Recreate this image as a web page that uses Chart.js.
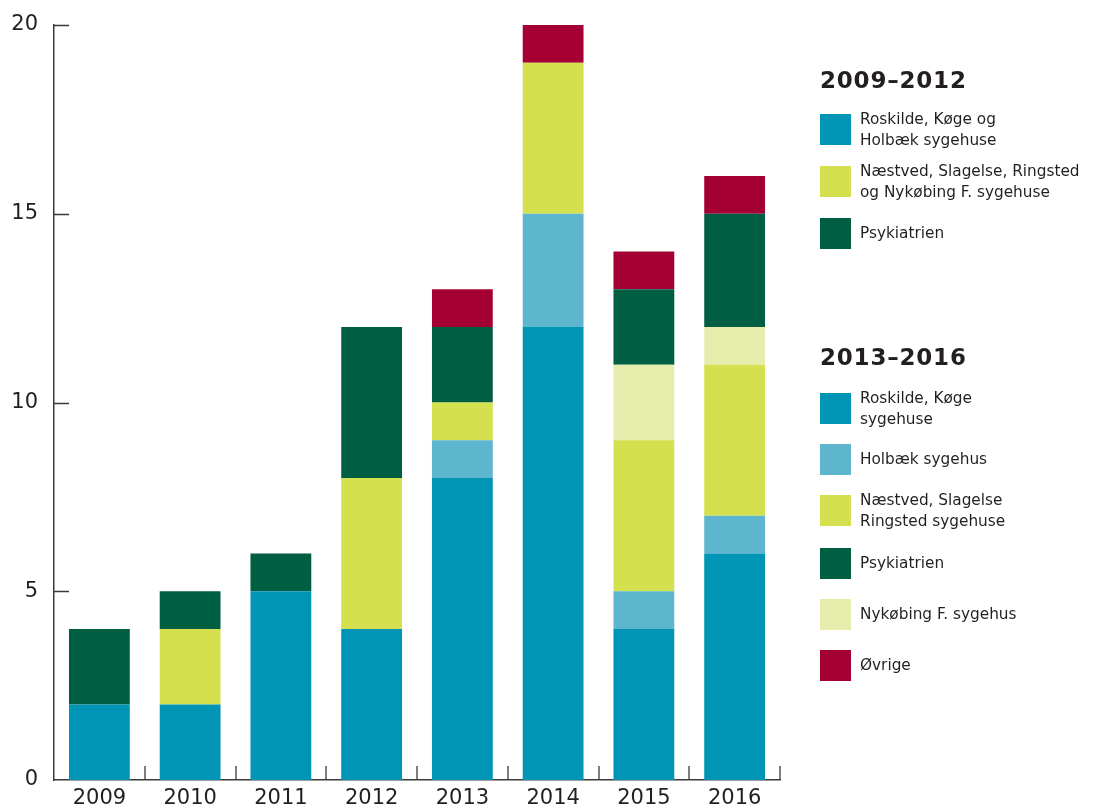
<!DOCTYPE html>
<html>
<head>
<meta charset="utf-8">
<script src="https://cdn.jsdelivr.net/npm/chart.js@4/dist/chart.umd.min.js"></script>
<style>
    html, body { margin: 0; padding: 0; background: #fff; }
    #wrap { position: relative; width: 1096px; height: 809px; overflow: hidden; }
    #chart { position: absolute; left: 0; top: 0; }
    .legend { position: absolute; left: 820px; font-family: "DejaVu Sans", sans-serif; color: #231f20; }
    .legend h3 { margin: 0; font-size: 23px; font-weight: bold; letter-spacing: 0.8px; line-height: 28px; }
    .legend.item { left: 820px; width: 280px; }
    .sw { position: absolute; left: 0; top: 0; width: 31px; height: 31px; }
    .txt { position: absolute; left: 40px; font-size: 15.3px; line-height: 21px; white-space: nowrap; }
</style>
</head>
<body>
<div id="wrap">
    <canvas id="chart" width="1096" height="809"></canvas>
    <div id="legend"></div>
</div>
<script>
const years = ['2009', '2010', '2011', '2012', '2013', '2014', '2015', '2016'];
const yTicks = [0, 5, 10, 15, 20];

// stacked from the bottom up
const roskildeKoege = [2, 2, 5, 4, 8, 12, 4, 6];
const holbaek = [0, 0, 0, 0, 1, 3, 1, 1];
const naestved = [0, 2, 0, 4, 1, 4, 4, 4];
const nykoebing = [0, 0, 0, 0, 0, 0, 2, 1];
const psykiatrien = [2, 1, 1, 4, 2, 0, 2, 3];
const oevrige = [0, 0, 0, 0, 1, 1, 1, 1];

const colors = {
    teal: '#0094b5',
    lightBlue: '#5db6ce',
    yellow: '#d4e04d',
    pale: '#e6ecab',
    green: '#005e42',
    red: '#a50034'
};

const legendGroups = [
    { title: '2009–2012', top: 66, items: [
        { color: colors.teal, text: 'Roskilde, Køge og<br>Holbæk sygehuse', y: 114 },
        { color: colors.yellow, text: 'Næstved, Slagelse, Ringsted<br>og Nykøbing F. sygehuse', y: 166 },
        { color: colors.green, text: 'Psykiatrien', y: 218 }
    ]},
    { title: '2013–2016', top: 343, items: [
        { color: colors.teal, text: 'Roskilde, Køge<br>sygehuse', y: 393 },
        { color: colors.lightBlue, text: 'Holbæk sygehus', y: 444 },
        { color: colors.yellow, text: 'Næstved, Slagelse<br>Ringsted sygehuse', y: 495 },
        { color: colors.green, text: 'Psykiatrien', y: 548 },
        { color: colors.pale, text: 'Nykøbing F. sygehus', y: 599 },
        { color: colors.red, text: 'Øvrige', y: 650 }
    ]}
];

// html legend
const legendEl = document.getElementById('legend');
legendGroups.forEach(g => {
    const box = document.createElement('div');
    box.className = 'legend';
    box.style.top = g.top + 'px';
    box.innerHTML = '<h3>' + g.title + '</h3>';
    legendEl.appendChild(box);
    g.items.forEach(it => {
        const el = document.createElement('div');
        el.className = 'legend item';
        el.style.top = it.y + 'px';
        const lines = it.text.split('<br>').length;
        const txtTop = lines === 1 ? 5 : -5;
        el.innerHTML = '<div class="sw" style="background:' + it.color + '"></div>' +
            '<div class="txt" style="top:' + txtTop + 'px">' + it.text + '</div>';
        legendEl.appendChild(el);
    });
});

// inward tick marks
const innerTicks = {
    id: 'innerTicks',
    afterDraw(chart) {
        const ctx = chart.ctx;
        const x = chart.scales.x, y = chart.scales.y;
        ctx.save();
        ctx.strokeStyle = '#3a3a3a';
        ctx.lineWidth = 1.3;
        ctx.beginPath();
        yTicks.slice(1).forEach(v => {
            const py = Math.round(y.getPixelForValue(v)) + 0.5;
            ctx.moveTo(x.left, py);
            ctx.lineTo(x.left + 15, py);
        });
        for (let i = 0; i < years.length; i++) {
            const bx = i < years.length - 1
                ? Math.round((x.getPixelForValue(i) + x.getPixelForValue(i + 1)) / 2)
                : x.right;
            ctx.moveTo(bx, y.bottom);
            ctx.lineTo(bx, y.bottom - 14);
        }
        ctx.stroke();
        ctx.restore();
    }
};

function ds(label, data, color) {
    return { label, data, backgroundColor: color, borderWidth: 0, barPercentage: 0.67, categoryPercentage: 1 };
}

new Chart(document.getElementById('chart').getContext('2d'), {
    type: 'bar',
    data: {
        labels: years,
        datasets: [
            ds('Roskilde, Køge sygehuse', roskildeKoege, colors.teal),
            ds('Holbæk sygehus', holbaek, colors.lightBlue),
            ds('Næstved, Slagelse Ringsted sygehuse', naestved, colors.yellow),
            ds('Nykøbing F. sygehus', nykoebing, colors.pale),
            ds('Psykiatrien', psykiatrien, colors.green),
            ds('Øvrige', oevrige, colors.red)
        ]
    },
    options: {
        responsive: false,
        animation: false,
        layout: { padding: { top: 25, right: 316, left: 0, bottom: 0 } },
        plugins: { legend: { display: false }, tooltip: { enabled: false } },
        scales: {
            x: {
                stacked: true,
                grid: { display: false, drawTicks: false },
                border: { color: '#3a3a3a', width: 1.5 },
                ticks: { color: '#231f20', font: { family: 'DejaVu Sans', size: 21 }, padding: 6 },
                afterFit(s) { s.height = 29; s.paddingLeft = 0; s.paddingRight = 0; }
            },
            y: {
                stacked: true,
                min: 0,
                max: 20,
                grid: { display: false, drawTicks: false },
                border: { color: '#3a3a3a', width: 1.5 },
                ticks: { stepSize: 5, color: '#231f20', font: { family: 'DejaVu Sans', size: 21 }, padding: 16 },
                afterFit(s) { s.width = 54; s.paddingTop = 0; s.paddingBottom = 0; }
            }
        }
    },
    plugins: [innerTicks]
});
</script>
</body>
</html>
